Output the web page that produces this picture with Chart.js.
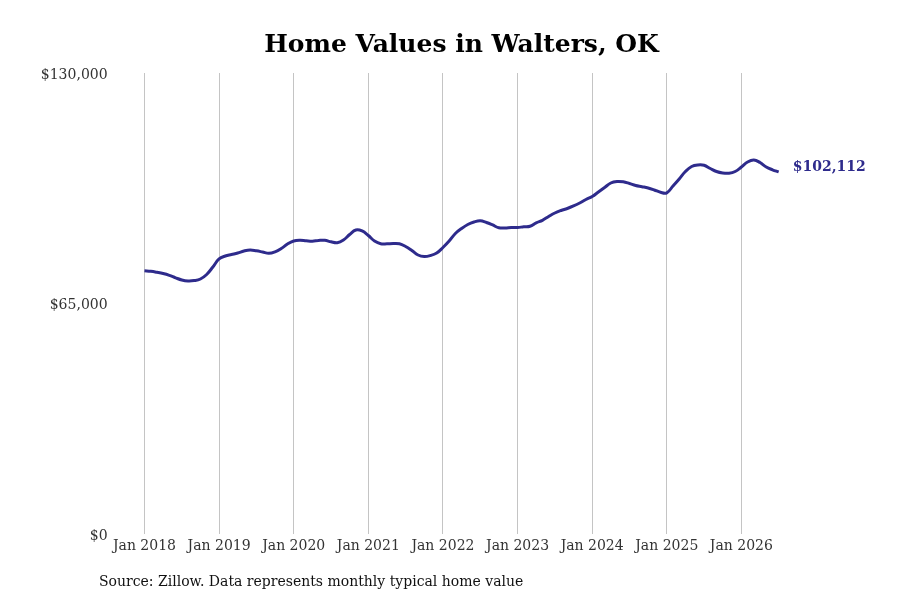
<!DOCTYPE html>
<html lang="en">
<head>
  <meta charset="UTF-8" />
  <title>Home Values in Walters, OK</title>
  <script src="https://cdn.jsdelivr.net/npm/chart.js"></script>
  <style>
    body {
      margin: 0;
      background: #fff;
    }

    .wrap {
      width: 900px;
      height: 600px;
    }
  </style>
</head>
<body>
  <div class="wrap"><canvas id="homeChart"></canvas></div>

  <script>
    // typical home value, monthly from Jan 2018 to Jul 2026
    const homeValues = [
      74250, 74080, 73800, 73460, 72950, 72250, 71630, 71350, 71460, 71910, 73180, 75290,
      77550, 78390, 78820, 79240, 79800, 80090, 79860, 79520, 79160, 79580, 80510, 81780,
      82620, 82820, 82680, 82570, 82770, 82820, 82400, 82150, 82910, 84460, 85730, 85450,
      84180, 82620, 81840, 81840, 81920, 81840, 81080, 79950, 78680, 78260, 78540, 79240,
      80790, 82620, 84740, 86150, 87280, 87980, 88320, 87840, 87140, 86350, 86290, 86430,
      86430, 86630, 86770, 87760, 88460, 89530, 90520, 91230, 91790, 92500, 93340, 94330,
      95170, 96440, 97710, 98980, 99410, 99320, 98840, 98280, 97940, 97570, 97010, 96360,
      96220, 98130, 100110, 102220, 103630, 104060, 103970, 103070, 102220, 101800, 101740, 102220,
      103490, 104900, 105470, 104760, 103490, 102710, 102112
    ];
    const yearTicks = ['Jan 2018', 'Jan 2019', 'Jan 2020', 'Jan 2021', 'Jan 2022',
                       'Jan 2023', 'Jan 2024', 'Jan 2025', 'Jan 2026'];
    const valueTicks = [0, 65000, 130000];

    const lineColor = '#2e2b8c';
    const serif = "'DejaVu Serif', serif";

    const money = v => '$' + Math.round(v).toLocaleString('en-US');

    // title, source note and the end label
    const textPlugin = {
      id: 'texts',
      afterDraw(chart) {
        const ctx = chart.ctx;
        ctx.save();
        ctx.fillStyle = '#000';
        ctx.font = 'bold 25px ' + serif;
        ctx.textAlign = 'center';
        ctx.textBaseline = 'middle';
        ctx.fillText('Home Values in Walters, OK', 461.5, 45);

        ctx.font = '14px ' + serif;
        ctx.textAlign = 'left';
        ctx.fillStyle = '#111';
        ctx.fillText('Source: Zillow. Data represents monthly typical home value', 99, 582);

        const meta = chart.getDatasetMeta(0);
        const last = meta.data[meta.data.length - 1];
        ctx.font = 'bold 14px ' + serif;
        ctx.fillStyle = lineColor;
        ctx.fillText(money(homeValues[homeValues.length - 1]), last.x + 14, last.y - 5);
        ctx.restore();
      }
    };

    const ctx = document.getElementById('homeChart').getContext('2d');
    new Chart(ctx, {
      type: 'line',
      data: {
        datasets: [{
          data: homeValues.map((v, i) => ({ x: i, y: v })),
          borderColor: lineColor,
          borderWidth: 3,
          pointRadius: 0,
          tension: 0.4,
          fill: false
        }]
      },
      options: {
        responsive: true,
        maintainAspectRatio: false,
        animation: false,
        layout: { padding: { top: 73, left: 0, right: 84, bottom: 36 } },
        plugins: {
          legend: { display: false },
          tooltip: { enabled: false }
        },
        scales: {
          x: {
            type: 'linear',
            min: -4,
            max: 108,
            afterBuildTicks: s => { s.ticks = yearTicks.map((_, i) => ({ value: i * 12 })); },
            afterFit: s => { s.height = 30; },
            ticks: {
              callback: v => yearTicks[v / 12],
              color: '#333',
              font: { family: serif, size: 14 },
              padding: 4,
              maxRotation: 0,
              autoSkip: false
            },
            grid: { color: '#c4c4c4', lineWidth: 1, drawTicks: false },
            border: { display: false }
          },
          y: {
            min: 0,
            max: 130000,
            afterBuildTicks: s => { s.ticks = valueTicks.map(v => ({ value: v })); },
            afterFit: s => { s.width = 119.6; },
            ticks: {
              callback: v => money(v),
              color: '#333',
              font: { family: serif, size: 14 },
              padding: 12,
              labelOffset: 2
            },
            grid: { display: false, drawTicks: false },
            border: { display: false }
          }
        }
      },
      plugins: [textPlugin]
    });
  </script>
</body>
</html>
